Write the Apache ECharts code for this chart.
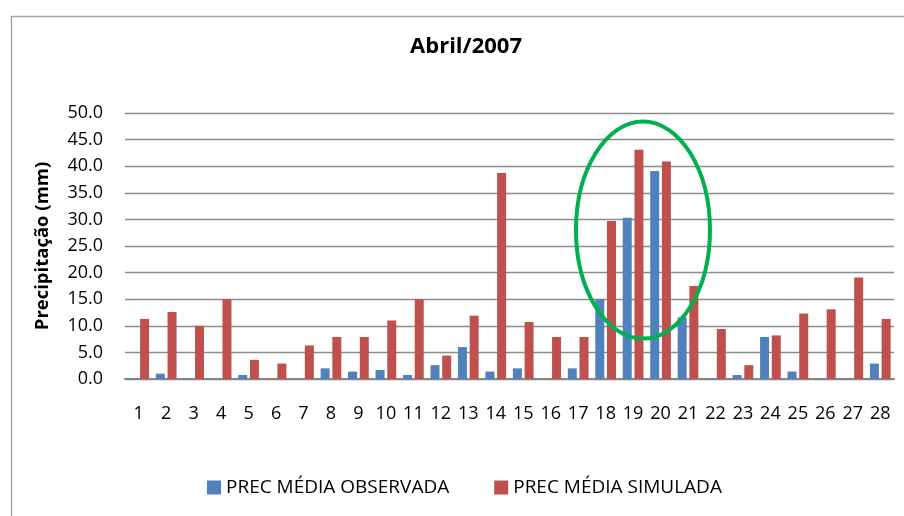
<!DOCTYPE html>
<html>
<head>
<meta charset="utf-8">
<script src="https://cdn.jsdelivr.net/npm/echarts@6/dist/echarts.min.js"></script>
<style>
html,body{margin:0;padding:0;background:#fff;}
#c{width:904px;height:516px;}
</style>
</head>
<body>
<div id="c"></div>
<script>
const titleText = 'Abril/2007';
const yAxisName = 'Precipitação (mm)';
const categories = ['1','2','3','4','5','6','7','8','9','10','11','12','13','14','15','16','17','18','19','20','21','22','23','24','25','26','27','28'];
const seriesNames = ['PREC MÉDIA OBSERVADA', 'PREC MÉDIA SIMULADA'];
const observada = [0.1,1.0,0.1,0,0.75,0,0,2.0,1.4,1.7,0.75,2.6,6.0,1.4,2.0,0,2.0,15.0,30.3,39.1,11.6,0.1,0.75,7.9,1.4,0.1,0.1,2.9];
const simulada = [11.3,12.6,10.0,15.0,3.6,2.9,6.3,7.9,7.9,11.0,15.0,4.4,11.9,38.7,10.7,7.9,7.9,29.7,43.1,40.9,17.5,9.4,2.6,8.2,12.3,13.1,19.1,11.3];
const yMin = 0, yMax = 50, yInterval = 5;
// highlight ellipse in data units (between days 19 and 20)
const highlight = {from: '19', to: '20', frac: 0.36, value: 28.0, rxCats: 2.44, ryValue: 20.4};

const font = 'Open Sans';
const chart = echarts.init(document.getElementById('c'), null, {renderer: 'canvas'});
const option = {
  animation: false,
  backgroundColor: '#ffffff',
  title: {
    text: titleText, left: 461, top: 31, textAlign: 'center',
    textStyle: {fontFamily: font, fontSize: 22, fontWeight: 'bold', color: '#000'}
  },
  grid: {left: 125, right: 10, top: 113, bottom: 137, containLabel: false},
  legend: {
    bottom: 14, left: 202, icon: 'rect', itemWidth: 14, itemHeight: 14, itemGap: 45,
    textStyle: {fontFamily: font, fontSize: 19, color: '#000'},
    data: seriesNames
  },
  xAxis: {
    type: 'category', data: categories,
    axisLine: {lineStyle: {color: '#868686', width: 2}},
    axisTick: {show: false},
    axisLabel: {fontFamily: font, fontSize: 18, color: '#000', margin: 26, interval: 0}
  },
  yAxis: {
    type: 'value', min: yMin, max: yMax, interval: yInterval,
    name: yAxisName, nameLocation: 'middle', nameGap: 73,
    nameTextStyle: {fontFamily: font, fontSize: 18.5, fontWeight: 'bold', color: '#000'},
    axisLine: {show: false}, axisTick: {show: false},
    axisLabel: {fontFamily: font, fontSize: 18, color: '#000', margin: 22, formatter: v => v.toFixed(1)},
    splitLine: {lineStyle: {color: '#8c8c8c', width: 1.3}}
  },
  series: [
    {name: seriesNames[0], type: 'bar', data: observada, barWidth: 9, barGap: '30%',
     itemStyle: {color: '#4F81BD'}},
    {name: seriesNames[1], type: 'bar', data: simulada, barWidth: 9, barGap: '30%',
     itemStyle: {color: '#C0504D'}}
  ]
};
chart.setOption(option);

// frame & highlight ellipse via converted coordinates
const pA = chart.convertToPixel({xAxisIndex: 0, yAxisIndex: 0}, [highlight.from, highlight.value]);
const pB = chart.convertToPixel({xAxisIndex: 0, yAxisIndex: 0}, [highlight.to, highlight.value]);
const p0 = chart.convertToPixel({xAxisIndex: 0, yAxisIndex: 0}, [highlight.from, 0]);
const p1 = chart.convertToPixel({xAxisIndex: 0, yAxisIndex: 0}, [highlight.from, highlight.ryValue]);
const catW = pB[0] - pA[0];
const cx = pA[0] + catW * highlight.frac;
const cy = pA[1];
const rx = catW * highlight.rxCats;
const ry = Math.abs(p0[1] - p1[1]);
chart.setOption({
  graphic: [
    {type: 'rect', left: 9, top: 14, shape: {x: 0, y: 0, width: 1000, height: 600},
     style: {fill: 'none', stroke: '#a6a6a6', lineWidth: 1.5}, silent: true, z: -1},
    {type: 'ellipse', shape: {cx: cx, cy: cy, rx: rx, ry: ry},
     style: {fill: 'none', stroke: '#00B050', lineWidth: 4}, silent: true, z: 100}
  ]
});
</script>
</body>
</html>
